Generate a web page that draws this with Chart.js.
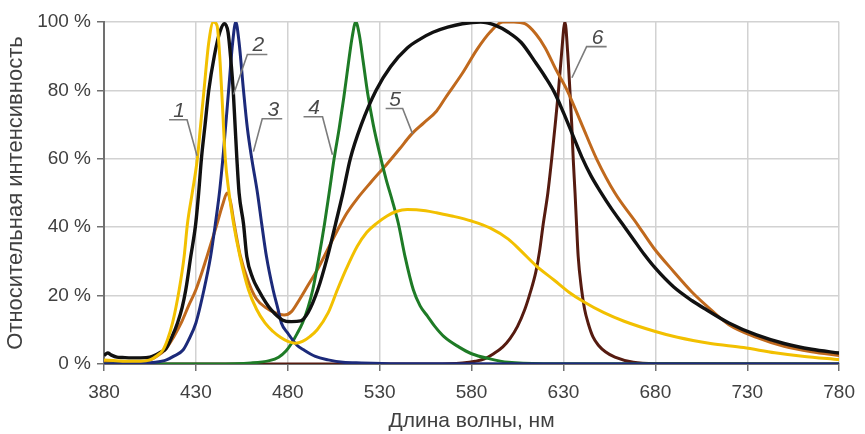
<!DOCTYPE html>
<html>
<head>
<meta charset="utf-8">
<script src="https://cdn.jsdelivr.net/npm/chart.js@4.4.1/dist/chart.umd.min.js"></script>
<style>
  html, body { margin: 0; padding: 0; background: #fff; }
  #spectra { display: block; }
</style>
</head>
<body>
<canvas id="spectra" width="865" height="434"></canvas>
<script>
// wavelength (nm) and relative intensity (%), one pair per curve
const wl1 = [380, 385, 390, 395, 400, 405, 409, 412, 414.5, 417.3, 420.9, 423.6, 425.4, 428, 430.8, 432.6, 434.4, 437, 439.5, 441.5, 443.2, 444.5, 446, 447.8, 450.5, 454, 458.6, 463, 467.6, 472, 476, 480, 484, 488, 492, 496, 502, 507, 512, 517.8, 523, 528.5, 534, 539, 545, 550, 555, 561, 570, 580, 590, 600, 607, 615, 625, 633, 641, 652, 663, 680, 692, 710, 728, 745, 760, 780];
const val1 = [1.2, 1.0, 0.8, 0.8, 0.8, 1.2, 2.5, 4, 7, 12, 21.7, 31.4, 41, 50, 60, 70, 80, 94, 100, 99, 88, 75, 60, 51, 41, 31.4, 21.7, 16, 12, 9.5, 7.8, 6.6, 6.1, 6.6, 8, 10, 15, 21.7, 28, 34.4, 38.5, 41.2, 43.3, 44.6, 45.2, 45.1, 44.8, 44.2, 43.2, 41.8, 39.8, 36.5, 33, 28.8, 24.5, 21, 18.2, 15, 12.5, 9.5, 7.8, 6, 4.8, 3.3, 2.3, 1.3];

const wl2 = [380, 382, 384, 387, 390, 395, 400, 405, 408, 411, 413.7, 417, 420, 422.5, 424.5, 427.2, 429.9, 431.5, 433, 435, 437, 440, 443, 445.5, 447.5, 449, 450.3, 451.3, 452.3, 453.5, 455.9, 457.7, 461, 464, 468, 471, 477, 482, 487, 491, 496.3, 501.6, 506, 510, 514, 520, 528, 536, 545, 552, 559, 567, 575, 585, 593, 600, 607, 615, 620, 625, 630, 635, 640, 645, 650, 656, 662, 668, 674, 680, 690, 700, 708, 720, 735, 750, 765, 780];
const val2 = [2.5, 3.2, 2.6, 2.0, 1.9, 1.8, 1.8, 2.0, 2.6, 3.5, 4.5, 8, 12, 16.5, 21.7, 31.4, 41, 50, 60, 70, 80, 90, 97, 99.5, 97, 89, 80, 70, 60, 50, 41, 31.4, 25, 21.7, 18, 15.8, 12.9, 12.4, 12.6, 15, 21.7, 31.4, 41, 50, 60, 70, 80, 87, 92.4, 95, 97, 98.5, 99.5, 100, 99, 97, 94, 88, 84, 79.5, 73.5, 67, 60.5, 55, 50.5, 45.5, 41, 36.5, 32, 28, 22.5, 18.5, 15.8, 12, 8.5, 6, 4.3, 3.2];

const wl3 = [380, 400, 408, 414, 418, 423, 426, 430, 434.4, 438, 440.6, 443, 445, 447.8, 450, 451.7, 453.5, 455.9, 458, 460.4, 463.5, 465.8, 468.4, 472, 474.7, 476.5, 480, 485, 489, 495, 502, 510, 520, 540, 780];
const val3 = [0, 0.2, 0.5, 1.2, 2.3, 4.1, 7, 12, 21.7, 31.4, 41, 51, 62, 80, 94, 100, 94, 80, 69, 60, 50, 41, 31.4, 21.7, 16, 12, 9, 5.5, 4, 2.2, 1.2, 0.5, 0.3, 0.1, 0];

const wl4 = [380, 440, 460, 470, 475, 479, 482, 485, 488, 491, 493.6, 497, 500, 502.5, 505.2, 508, 510.5, 513, 515, 517, 519, 521, 523.5, 526.5, 530, 533.5, 537, 540.2, 543.8, 548.3, 552, 556, 560, 565, 573, 580, 590, 600, 620, 780];
const val4 = [0, 0, 0.3, 1, 2, 3.8, 6, 8.8, 12, 16.5, 21.7, 31.4, 41, 50, 60, 69, 78, 88, 95.5, 100, 96, 88.5, 79, 70, 61.5, 54, 47.5, 41, 31.4, 21.7, 17, 14, 11, 8, 5, 3, 1.5, 0.5, 0.1, 0];

const wl5 = [380, 395, 403, 408, 413, 418, 422, 426, 430, 436, 441.5, 444.5, 447, 449, 450.5, 454, 458.6, 463, 468, 473, 478, 482, 486, 491, 496, 505, 512, 518, 525, 534, 541, 547, 554, 561, 566, 575, 583, 590, 597, 603, 609, 615, 620, 626, 632, 640, 648, 658, 670, 679, 690, 700, 710, 720, 735, 750, 765, 780];
const val5 = [0.5, 0.5, 0.8, 2, 4, 8, 12, 17, 21.7, 31.4, 41, 46.5, 50, 47, 42, 32, 24, 19, 16.5, 15, 14.3, 15.3, 18.5, 23, 27.5, 37, 44, 48.5, 53, 58.5, 63, 67, 70.5, 74, 78, 85, 92, 97, 100, 100, 99.5, 96.5, 92.5, 86, 80, 70, 60, 50, 41, 34, 27, 21, 16, 11.5, 7.8, 5.2, 3.6, 2.5];

const wl6 = [380, 560, 575, 582, 587, 592, 597, 601, 605, 609, 612, 615, 617, 619, 621.5, 623.6, 625.5, 627.3, 629, 630.8, 632.3, 633.5, 634.5, 635.3, 636.3, 637.1, 638, 639.8, 641.5, 643.4, 646, 649, 653, 658, 668, 680, 780];
const val6 = [0, 0, 0.3, 0.8, 1.5, 3, 5, 7.5, 11, 16, 21, 27, 33, 41, 50, 60, 70, 80, 91, 100, 91, 80, 70, 60, 50, 41, 31.5, 22, 16, 12, 8, 5.5, 3.5, 2, 0.5, 0.1, 0];

const xTicks = [380, 430, 480, 530, 580, 630, 680, 730, 780];
const yTicks = [0, 20, 40, 60, 80, 100];

const seriesNames = ['1', '2', '3', '4', '5', '6'];
const seriesColors = ['#f2c000', '#111111', '#1c2a7a', '#1e7b26', '#c0691d', '#561b10'];

// numbered callouts: point on the curve, elbow of the leader, side of the underline
const callouts = [
  { text: '1', px: 430.6, py: 60.9, ex: 425.2, ey: 71.4, dir: -1, len: 18 },
  { text: '2', px: 450.5, py: 78.8, ex: 458.0, ey: 90.5, dir: 1, len: 20 },
  { text: '3', px: 461.3, py: 62.1, ex: 466.1, ey: 71.7, dir: 1, len: 20 },
  { text: '4', px: 504.3, py: 61.2, ex: 498.9, ey: 72.3, dir: -1, len: 19 },
  { text: '5', px: 547.9, py: 67.3, ex: 542.5, ey: 74.7, dir: -1, len: 17 },
  { text: '6', px: 634.6, py: 83.7, ex: 642.6, ey: 92.8, dir: 1, len: 20 }
];

const FONT = "'Liberation Sans', Arial, sans-serif";
const TEXT = '#404040';

const pairs = [[wl1, val1], [wl2, val2], [wl3, val3], [wl4, val4], [wl5, val5], [wl6, val6]];

const calloutPlugin = {
  id: 'callouts',
  afterDatasetsDraw(chart) {
    const { ctx, scales: { x, y } } = chart;
    ctx.save();
    ctx.strokeStyle = '#7c7c7c';
    ctx.lineWidth = 1.6;
    ctx.fillStyle = '#4a4a4a';
    ctx.font = 'italic 21px ' + FONT;
    ctx.textAlign = 'center';
    ctx.textBaseline = 'alphabetic';
    callouts.forEach((c) => {
      const px = x.getPixelForValue(c.px);
      const py = y.getPixelForValue(c.py);
      const ex = x.getPixelForValue(c.ex);
      const ey = y.getPixelForValue(c.ey);
      const endX = ex + c.dir * c.len;
      ctx.beginPath();
      ctx.moveTo(px, py);
      ctx.lineTo(ex, ey);
      ctx.lineTo(endX, ey);
      ctx.stroke();
      ctx.fillText(c.text, (ex + endX) / 2 + 1, ey - 3);
    });
    ctx.restore();
  }
};

new Chart(document.getElementById('spectra'), {
  type: 'line',
  plugins: [calloutPlugin],
  data: {
    datasets: pairs.map(([wl, val], i) => ({
      label: seriesNames[i],
      data: wl.map((w, k) => ({ x: w, y: val[k] })),
      borderColor: seriesColors[i],
      borderWidth: i === 1 ? 3.4 : 3,
      pointRadius: 0,
      fill: false,
      cubicInterpolationMode: 'monotone'
    }))
  },
  options: {
    responsive: false,
    animation: false,
    events: [],
    layout: { padding: { top: 22, right: 18, left: 0, bottom: 0 } },
    plugins: {
      legend: { display: false },
      tooltip: { enabled: false }
    },
    scales: {
      x: {
        type: 'linear',
        min: 380,
        max: 780,
        afterBuildTicks: (scale) => { scale.ticks = xTicks.map((v) => ({ value: v })); },
        afterFit: (scale) => { scale.height = 70; },
        grid: { color: '#d2d2d2', lineWidth: 1.5, tickColor: '#707070', tickLength: 7 },
        border: { color: '#707070', width: 2 },
        ticks: { color: TEXT, font: { family: FONT, size: 19 }, padding: 10, maxRotation: 0 },
        title: {
          display: true,
          text: 'Длина волны, нм',
          color: TEXT,
          font: { family: FONT, size: 21 },
          padding: { top: 0, bottom: 0 }
        }
      },
      y: {
        min: 0,
        max: 100,
        afterBuildTicks: (scale) => { scale.ticks = yTicks.map((v) => ({ value: v })); },
        afterFit: (scale) => { scale.width = 104; },
        grid: { color: '#d2d2d2', lineWidth: 1.5, tickColor: '#707070', tickLength: 7 },
        border: { color: '#707070', width: 2 },
        ticks: {
          color: TEXT,
          font: { family: FONT, size: 19 },
          padding: 6,
          callback: (v) => v + ' %'
        },
        title: {
          display: true,
          text: 'Относительная интенсивность',
          color: TEXT,
          font: { family: FONT, size: 22 },
          padding: { top: 3, bottom: 0 }
        }
      }
    }
  }
});
</script>
</body>
</html>
